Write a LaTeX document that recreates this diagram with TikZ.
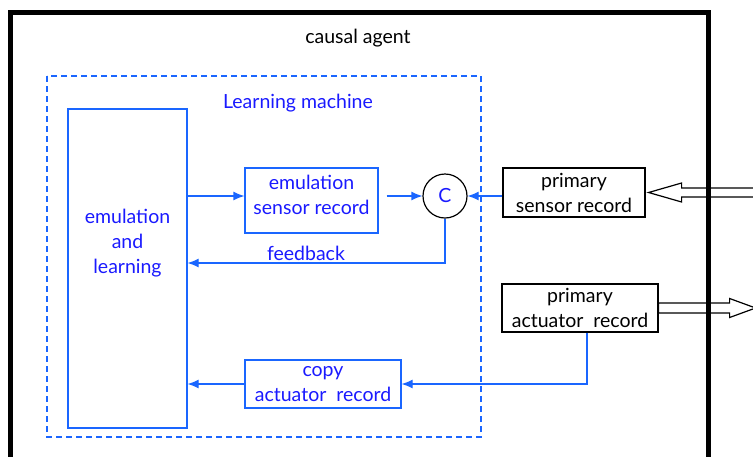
\documentclass[tikz,border=0pt]{standalone}
\usepackage{fontspec}
\setmainfont{Lato}
\usetikzlibrary{arrows.meta,positioning,calc}
\definecolor{lineblue}{HTML}{1A66FF}
\definecolor{textblue}{HTML}{1A1AFF}
\begin{document}
\begin{tikzpicture}[x=1pt,y=-1pt,
	txt/.style={font=\fontsize{19.5}{25}\selectfont,align=center,inner sep=0pt},
	box/.style={txt,rectangle,draw=lineblue,line width=1.2pt,text=textblue},
	rec/.style={txt,rectangle,draw=black,line width=1.2pt},
	link/.style={draw=lineblue,line width=1.2pt,-{Latex[length=11pt,width=9pt]}},
	hollow/.style={draw=black,line width=1.2pt,fill=white}]
	\clip (0,0) rectangle (753,456);
	\useasboundingbox (0,0) rectangle (753,456);
	% learning machine
	\draw[lineblue,line width=1.2pt,dash pattern=on 6pt off 4pt] (47,76) rectangle (481,437);
	\node[txt,text=black] (agent) at (358,38) {causal agent};
	\node[txt,text=textblue] (machine) at (298,103) {Learning machine};
	\node[box,minimum width=119,minimum height=319] (emul) at (127.5,268.5) {};
	\node[txt,text=textblue] (emultext) at (127.5,243) {emulation\\and\\learning};
	\node[box,minimum width=133,minimum height=65] (esr) at (311.5,200.5) {};
	\node[txt,text=textblue] (esrtext) at (311.5,195) {emulation\\sensor record};
	\node[circle,draw=black,line width=1.2pt,minimum size=44,txt,text=textblue] (cmp) at (445,196) {C};
	\node[box,minimum width=156,minimum height=48] (cpy) at (323,384) {copy\\actuator\ \ record};
	% primary records
	\node[rec,minimum width=142,minimum height=49] (psr) at (574,192.5) {primary\\sensor record};
	\node[rec,minimum width=156,minimum height=48] (par) at (580,308) {primary\\actuator\ \ record};
	% connectors
	\draw[link] (emul.east |- cmp) -- (esr.west |- cmp);
	\draw[link,shorten <=8pt] (esr.east |- cmp) -- (cmp.west);
	\draw[link] (psr.west |- cmp) -- (cmp.east);
	\draw[link] (cmp.south) |- (emul.east |- 0,263) node[txt,pos=0.77,above=2pt,text=textblue] (fb) {feedback};
	\draw[link] ([xshift=7]par.south) |- (cpy.east);
	\draw[link] (cpy.west) -- (cpy.west -| emul.east);
	% hollow arrows
	\coordinate (sin) at ($(psr.east)+(3,0)$);
	\coordinate (aout) at ($(par.east)+(97,0)$);
	\draw[hollow] (sin) -- ++(33,-9.5) -- ++(0,5) -- ++(90,0) -- ++(0,9) -- ++(-90,0) -- ++(0,5) -- cycle;
	\draw[hollow] (par.east) ++(0,-5) -- ++(71,0) -- ++(0,-4.5) -- (aout) -- ++(-26,9.5) -- ++(0,-4.5) -- ++(-71,0) -- cycle;
	% causal agent frame
	\draw[line width=5pt] (10,12) rectangle (708,480);
\end{tikzpicture}
\end{document}
